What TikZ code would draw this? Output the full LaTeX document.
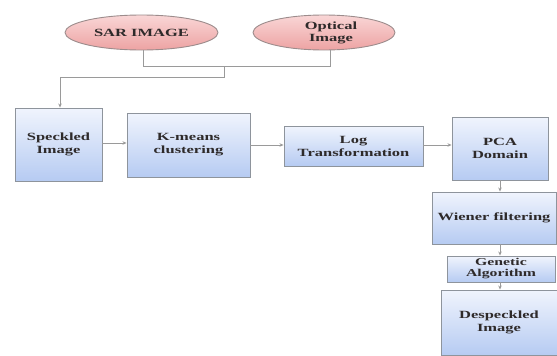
\documentclass[tikz,border=0pt]{standalone}
\usepackage{fontspec}
\setmainfont{Liberation Serif}[FakeStretch=1.5]
\usetikzlibrary{shapes.geometric,arrows.meta}
\definecolor{txt}{HTML}{2E2A2A}
\definecolor{edge}{HTML}{8E949C}
\definecolor{line}{HTML}{9A9A9A}
\definecolor{boxtop}{HTML}{F0F4FD}
\definecolor{boxbot}{HTML}{B6CBF2}
\definecolor{pinktop}{HTML}{F9D6D6}
\definecolor{pinkbot}{HTML}{EDA3A3}
\definecolor{pinkedge}{HTML}{9C8C8C}
\tikzset{
  blockbox/.style={draw=edge, line width=0.9pt, top color=boxtop, bottom color=boxbot,
    align=center, inner sep=1pt, text=txt,
    font=\fontsize{11}{13}\selectfont\bfseries},
  oval/.style={ellipse, draw=pinkedge, line width=0.9pt, top color=pinktop, bottom color=pinkbot,
    align=center, inner sep=0pt, text=txt,
    font=\fontsize{11}{12}\selectfont\bfseries},
  conn/.style={draw=line, line width=0.9pt},
  arr/.style={conn, -{Stealth[length=4pt,width=3.5pt]}},
}
\begin{document}
\begin{tikzpicture}[x=1pt,y=-1pt]
\useasboundingbox (0,0) rectangle (557,356);
\fill[white] (0,0) rectangle (557,356);
% ellipses
\node[oval, minimum width=153pt, minimum height=35pt] (sar) at (141.5,32.5) {SAR IMAGE};
\node[oval, minimum width=142pt, minimum height=35pt] (opt) at (324,32.5) {\hspace*{14pt}Optical\\\hspace*{14pt}Image};
% boxes
\node[blockbox, minimum width=87pt, minimum height=73pt] (spk) at (58.5,144.5) {Speckled\\Image};
\node[blockbox, minimum width=123pt, minimum height=64pt] (km) at (188.5,145) {K-means\\clustering};
\node[blockbox, minimum width=139pt, minimum height=40pt] (log) at (353.5,146) {Log\\Transformation};
\node[blockbox, minimum width=96pt, minimum height=63pt] (pca) at (500,148.5) {PCA\\Domain};
\node[blockbox, minimum width=124pt, minimum height=52pt] (wf) at (494,218) {Wiener filtering};
\node[blockbox, minimum width=108pt, minimum height=26pt, font=\fontsize{10.5}{11}\selectfont\bfseries] (ga) at (501,269) {Genetic\\Algorithm};
\node[blockbox, minimum width=116pt, minimum height=65pt] (dsp) at (499,322.5) {Despeckled\\Image};
% merge connector
\coordinate (j1) at (143,66);
\coordinate (j2) at (330,66);
\coordinate (jm) at (224,66);
\coordinate (jd) at (224,77);
\coordinate (jl) at (60,77);
\draw[conn] (sar.south -| j1) -- (j1) -- (j2) -- (opt.south -| j2);
\draw[arr] (jm) -- (jd) -- (jl) -- (spk.north -| jl);
% flow
\draw[arr] (spk.east |- 0,143) -- (km.west |- 0,143);
\draw[arr] (km.east |- 0,145) -- (log.west |- 0,145);
\draw[arr] (log.east |- 0,145) -- (pca.west |- 0,145);
\draw[arr] (pca.south) -- (pca.south |- wf.north);
\draw[arr] (pca.south |- wf.south) -- (pca.south |- ga.north);
\draw[arr] (pca.south |- ga.south) -- (pca.south |- dsp.north);
\end{tikzpicture}
\end{document}
